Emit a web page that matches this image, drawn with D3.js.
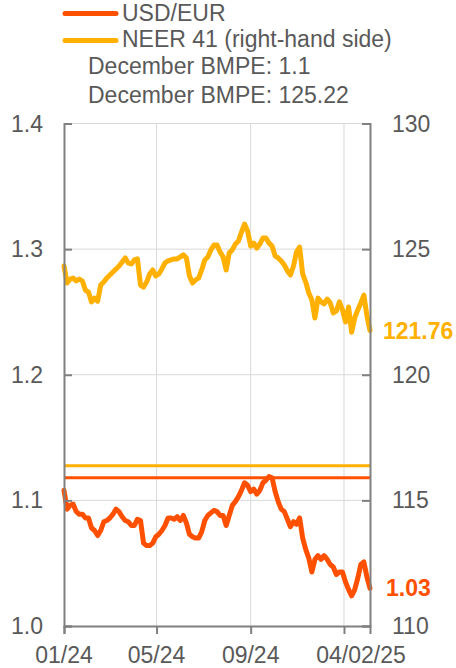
<!DOCTYPE html>
<html>
<head>
<meta charset="utf-8">
<script src="https://cdn.jsdelivr.net/npm/d3@7"></script>
<style>
  body { margin: 0; background: #fff; }
  svg text { font-family: "Liberation Sans", Arial, sans-serif; fill: #595959; }
</style>
</head>
<body>
<svg id="chart"></svg>
<script>
// observation dates (every 4 days, 01/01/24 - 04/02/25)
var dates = [
  "2024-01-01","2024-01-05","2024-01-09","2024-01-13","2024-01-17","2024-01-21","2024-01-25","2024-01-29",
  "2024-02-02","2024-02-06","2024-02-10","2024-02-14","2024-02-18","2024-02-22","2024-02-26",
  "2024-03-01","2024-03-05","2024-03-09","2024-03-13","2024-03-17","2024-03-21","2024-03-25","2024-03-29",
  "2024-04-02","2024-04-06","2024-04-10","2024-04-14","2024-04-18","2024-04-22","2024-04-26","2024-04-30",
  "2024-05-04","2024-05-08","2024-05-12","2024-05-16","2024-05-20","2024-05-24","2024-05-28",
  "2024-06-01","2024-06-05","2024-06-09","2024-06-13","2024-06-17","2024-06-21","2024-06-25","2024-06-29",
  "2024-07-03","2024-07-07","2024-07-11","2024-07-15","2024-07-19","2024-07-23","2024-07-27","2024-07-31",
  "2024-08-04","2024-08-08","2024-08-12","2024-08-16","2024-08-20","2024-08-24","2024-08-28",
  "2024-09-01","2024-09-05","2024-09-09","2024-09-13","2024-09-17","2024-09-21","2024-09-25","2024-09-29",
  "2024-10-03","2024-10-07","2024-10-11","2024-10-15","2024-10-19","2024-10-23","2024-10-27","2024-10-31",
  "2024-11-04","2024-11-08","2024-11-12","2024-11-16","2024-11-20","2024-11-24","2024-11-28",
  "2024-12-02","2024-12-06","2024-12-10","2024-12-14","2024-12-18","2024-12-22","2024-12-26","2024-12-30",
  "2025-01-03","2025-01-07","2025-01-11","2025-01-15","2025-01-19","2025-01-23","2025-01-27","2025-01-31",
  "2025-02-04"
];

var usdEur = [
  1.108,1.093,1.096,1.097,1.091,1.089,1.089,1.086,
  1.086,1.078,1.076,1.072,1.076,1.083,1.084,
  1.086,1.089,1.093,1.091,1.087,1.084,1.083,1.080,
  1.080,1.085,1.084,1.066,1.064,1.064,1.066,1.071,
  1.073,1.076,1.080,1.086,1.086,1.085,1.087,
  1.084,1.088,1.082,1.073,1.071,1.070,1.070,1.075,
  1.084,1.088,1.090,1.092,1.091,1.088,1.088,1.080,
  1.088,1.096,1.099,1.103,1.108,1.114,1.112,
  1.107,1.109,1.105,1.108,1.114,1.116,1.119,1.118,
  1.107,1.099,1.093,1.091,1.085,1.079,1.083,1.081,
  1.086,1.070,1.061,1.054,1.043,1.053,1.056,
  1.053,1.056,1.053,1.049,1.047,1.041,1.043,1.043,
  1.035,1.029,1.024,1.029,1.038,1.049,1.051,1.039,
  1.030
];

var neer41 = [
  124.33,123.65,123.81,123.85,123.73,123.81,123.73,123.37,
  123.29,122.90,123.05,122.93,123.57,123.69,123.85,
  123.97,124.09,124.21,124.33,124.49,124.65,124.45,124.41,
  124.57,124.61,123.57,123.49,123.69,124.01,124.17,123.93,
  124.01,124.21,124.45,124.53,124.57,124.61,124.61,
  124.69,124.77,124.65,123.93,123.65,123.77,123.85,124.17,
  124.57,124.69,124.97,125.16,125.16,124.89,124.69,124.17,
  124.85,124.97,125.20,125.32,125.68,126.00,125.72,
  125.12,125.24,125.04,125.20,125.44,125.44,125.24,125.12,
  124.73,124.65,124.53,124.37,124.13,123.97,124.33,124.89,
  125.08,124.01,123.69,123.25,122.98,122.26,123.05,
  122.90,122.82,123.01,122.86,122.46,122.54,122.90,122.58,
  122.10,122.70,121.69,122.26,122.58,122.86,123.17,122.34,
  121.76
];

// reference lines as drawn (left-hand scale for USD/EUR, right-hand scale for NEER)
var bmpeUsd = 1.118;
var bmpeNeer = 116.38;

var legendLabels = ["USD/EUR", "NEER 41 (right-hand side)", "December BMPE: 1.1", "December BMPE: 125.22"];
var leftTicks = [1.0, 1.1, 1.2, 1.3, 1.4];
var rightTicks = [110, 115, 120, 125, 130];
var xTickDates = ["2024-01-01", "2024-05-01", "2024-09-01", "2025-01-01"];
var xTickLabels = ["01/24", "05/24", "09/24", "04/02/25"];

var red = "#ff5000";
var yellow = "#ffb000";

var width = 456, height = 668;
var plotLeft = 64, plotRight = 370, plotTop = 123.5, plotBottom = 626;

var parse = d3.utcParse("%Y-%m-%d");
var dateObjs = dates.map(parse);

var x = d3.scaleUtc()
  .domain([parse("2024-01-01"), parse("2025-02-04")])
  .range([plotLeft, plotRight]);
var yL = d3.scaleLinear().domain([1.0, 1.4]).range([plotBottom, plotTop]);
var yR = d3.scaleLinear().domain([110, 130]).range([plotBottom, plotTop]);

var svg = d3.select("#chart").attr("width", width).attr("height", height);

// grid
svg.append("g")
  .selectAll("line")
  .data(leftTicks.slice(1))
  .enter().append("line")
    .attr("x1", plotLeft).attr("x2", plotRight)
    .attr("y1", d => yL(d)).attr("y2", d => yL(d))
    .attr("stroke", "#d9d9d9").attr("stroke-width", 1);

svg.append("g")
  .selectAll("line")
  .data(xTickDates.slice(1))
  .enter().append("line")
    .attr("x1", d => x(parse(d))).attr("x2", d => x(parse(d)))
    .attr("y1", plotTop).attr("y2", plotBottom)
    .attr("stroke", "#d9d9d9").attr("stroke-width", 1);

// reference lines
svg.append("line")
  .attr("x1", plotLeft).attr("x2", plotRight)
  .attr("y1", yR(bmpeNeer)).attr("y2", yR(bmpeNeer))
  .attr("stroke", yellow).attr("stroke-width", 3);
svg.append("line")
  .attr("x1", plotLeft).attr("x2", plotRight)
  .attr("y1", yL(bmpeUsd)).attr("y2", yL(bmpeUsd))
  .attr("stroke", red).attr("stroke-width", 3);

// series
var lineL = d3.line().x((d, i) => x(dateObjs[i])).y(d => yL(d));
var lineR = d3.line().x((d, i) => x(dateObjs[i])).y(d => yR(d));

svg.append("path")
  .datum(neer41)
  .attr("d", lineR)
  .attr("fill", "none").attr("stroke", yellow)
  .attr("stroke-width", 5).attr("stroke-linejoin", "round").attr("stroke-linecap", "round");

svg.append("path")
  .datum(usdEur)
  .attr("d", lineL)
  .attr("fill", "none").attr("stroke", red)
  .attr("stroke-width", 5).attr("stroke-linejoin", "round").attr("stroke-linecap", "round");

// axes
var axisColor = "#808080";
var leftAxis = svg.append("g")
  .attr("transform", `translate(${plotLeft},0)`)
  .call(d3.axisRight(yL).tickValues(leftTicks).tickSize(8).tickFormat(""));
var rightAxis = svg.append("g")
  .attr("transform", `translate(${plotRight},0)`)
  .call(d3.axisLeft(yR).tickValues(rightTicks).tickSize(8).tickFormat(""));
var bottomAxis = svg.append("g")
  .attr("transform", `translate(0,${plotBottom})`)
  .call(d3.axisBottom(x).tickValues(xTickDates.map(parse)).tickSize(8).tickFormat(""));

[leftAxis, rightAxis, bottomAxis].forEach(g => {
  g.select(".domain").attr("stroke", axisColor).attr("stroke-width", 2);
  g.selectAll(".tick line").attr("stroke", axisColor).attr("stroke-width", 2);
});

var fontSize = "23px";

svg.append("g")
  .selectAll("text")
  .data(leftTicks)
  .enter().append("text")
    .attr("x", 43).attr("y", d => yL(d)).attr("dy", "0.35em")
    .attr("text-anchor", "end").style("font-size", fontSize)
    .text(d => d.toFixed(1));

svg.append("g")
  .selectAll("text")
  .data(rightTicks)
  .enter().append("text")
    .attr("x", 392).attr("y", d => yR(d)).attr("dy", "0.35em")
    .attr("text-anchor", "start").style("font-size", fontSize)
    .text(d => d);

svg.append("g")
  .selectAll("text")
  .data(xTickDates)
  .enter().append("text")
    .attr("x", (d, i) => x(parse(d)) + (i === xTickDates.length - 1 ? 17 : 0))
    .attr("y", 663)
    .attr("text-anchor", "middle").style("font-size", fontSize)
    .text((d, i) => xTickLabels[i]);

// end-of-series labels
svg.append("text")
  .attr("x", 383).attr("y", yR(neer41[neer41.length - 1])).attr("dy", "0.35em")
  .style("font-size", fontSize).style("font-weight", "bold").style("fill", yellow)
  .text(d3.format(".2f")(neer41[neer41.length - 1]));
svg.append("text")
  .attr("x", 386).attr("y", yL(usdEur[usdEur.length - 1])).attr("dy", "0.35em")
  .style("font-size", fontSize).style("font-weight", "bold").style("fill", red)
  .text(d3.format(".2f")(usdEur[usdEur.length - 1]));

// legend
var legend = svg.append("g");
[red, yellow].forEach((c, i) => {
  legend.append("line")
    .attr("x1", 65).attr("x2", 116)
    .attr("y1", 13.5 + i * 27).attr("y2", 13.5 + i * 27)
    .attr("stroke", c).attr("stroke-width", 5).attr("stroke-linecap", "round");
});
legend.selectAll("text")
  .data(legendLabels)
  .enter().append("text")
    .attr("x", (d, i) => i < 2 ? 122 : 88)
    .attr("y", (d, i) => [21, 47, 74, 102.5][i])
    .style("font-size", fontSize)
    .text(d => d);
</script>
</body>
</html>
